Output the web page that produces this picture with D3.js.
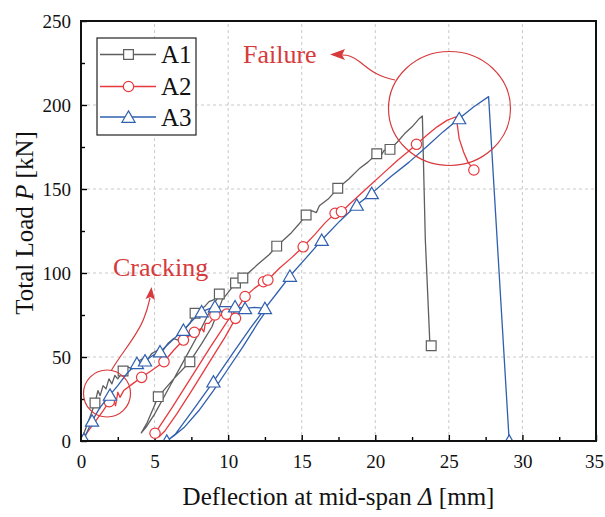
<!DOCTYPE html>
<html>
<head>
<meta charset="utf-8">
<script src="https://cdn.jsdelivr.net/npm/d3@7"></script>
<style>
  body { margin: 0; background: #fff; }
  svg { display: block; font-family: "Liberation Serif", "Times New Roman", serif; }
</style>
</head>
<body>
<div id="chart"></div>
<script>
// ---- data (deflection in mm, load in kN) ----
const a1Deflection = [0, 0.3, 0.6, 0.95, 1.15, 1.3, 1.5, 1.7, 1.9, 2.1, 2.3, 2.5, 2.86, 3.2, 3.5, 3.8, 4.2, 4.5, 4.8, 5.2, 5.5, 5.9, 6.3, 6.6, 7.0, 7.4, 7.75, 8.1, 8.4, 8.7, 9.0, 9.4,
  8.8, 8.0, 7.0, 6.0, 5.0, 4.4, 4.1,
  4.5, 5.25, 6.3, 7.4, 8.2, 8.9, 9.6, 10.5, 11.0, 11.5, 12.0, 12.4, 12.8, 13.3, 13.8, 14.3, 14.8, 15.3, 15.7, 16.0, 16.2, 16.8, 17.45, 18.2, 18.9, 19.5, 20.1, 20.4, 20.6, 21.0, 21.5, 22.0, 22.5, 23.0, 23.2,
  23.4, 23.7, 23.8];
const a1Load = [0, 7, 14, 22.6, 30, 27, 33, 31, 37, 34, 39, 37, 41.7, 44, 43, 47, 49, 48, 52, 54, 53, 58, 61, 60, 66, 70, 76, 78, 80, 83, 84, 87,
  78, 64, 48, 32, 16, 8, 4.8,
  11, 26.4, 37, 47.2, 58, 68, 84, 94, 97, 101, 105, 108, 111, 116, 120, 124, 129, 134.5, 137, 136, 140, 144, 150.4, 156, 162, 166, 171, 170, 173, 173.6, 178, 183, 187, 192, 193.5,
  120, 60, 56.7];
const a1MarkX = [0.95, 2.86, 5.25, 7.4, 7.75, 9.4, 10.5, 11.0, 13.3, 15.3, 17.45, 20.1, 21.0, 23.8];
const a1MarkY = [22.6, 41.7, 26.4, 47.2, 76, 87.5, 94, 97, 116, 134.5, 150.4, 171, 173.6, 56.7];

const a2Deflection = [0, 0.5, 1.0, 1.5, 1.92, 2.2, 2.35, 2.5, 2.65, 2.9, 3.5, 4.12, 4.8, 5.64, 6.3, 6.96, 7.7, 8.2, 8.35, 8.45, 8.7, 9.1, 9.9, 10.5,
  9.8, 8.8, 7.6, 6.5, 5.7, 5.3, 5.03,
  6.2, 7.5, 8.8, 10.0, 10.7, 11.15, 11.8, 12.4, 12.7, 13.5, 14.3, 15.1, 15.9, 16.6, 17.27, 17.7, 18.5, 19.5, 20.5, 21.5, 22.2, 22.8, 23.5, 24.2, 24.9, 25.5,
  25.7, 26.0, 26.3, 26.7];
const a2Load = [0, 6, 12, 18, 23.4, 25, 21, 29, 26, 30, 34, 37.9, 42, 47.2, 54, 60.1, 64.7, 67, 65, 70, 70, 74, 75.5, 73,
  62, 48, 31, 16, 6, 2.5, 4.6,
  20, 38, 56, 72, 80, 86, 91, 94.8, 95.8, 103, 109, 115.6, 123, 130, 135.5, 136.5, 143, 151, 159, 167, 172, 176.6, 182, 187, 191, 193,
  180, 172, 166, 161.3];
const a2MarkX = [1.92, 4.12, 5.64, 6.96, 7.7, 9.1, 9.9, 10.5, 5.03, 11.15, 12.4, 12.7, 15.1, 17.27, 17.7, 22.8, 26.7];
const a2MarkY = [23.4, 37.9, 47.2, 60.1, 64.7, 75, 75.5, 73, 4.6, 86, 94.8, 95.8, 115.6, 135.5, 136.5, 176.6, 161.3];

const a3Deflection = [0, 0.2, 0.75, 1.3, 1.97, 2.5, 3.1, 3.8, 4.35, 4.9, 5.37, 5.5, 6.2, 6.96, 7.6, 8.2, 9.1, 9.8, 10.47, 11.15, 11.8, 12.5, 12.7,
  12.0, 11.0, 10.0, 9.0, 8.0, 7.0, 6.3, 5.83,
  6.4, 7.5, 9.0, 10.3, 11.5, 12.6, 13.4, 14.2, 15.3, 16.36, 17.6, 18.74, 19.76, 21.0, 22.3, 23.6, 24.6, 25.7, 26.7, 27.7,
  29.1];
const a3Load = [0, 1, 12, 20, 27.4, 33, 40, 46.2, 47.8, 51, 53.2, 54, 60, 66, 72, 77, 80, 80, 80, 79, 79.5, 79, 79,
  70, 56, 43, 30, 18, 8, 3, 0,
  4, 17, 35.3, 52, 67, 80, 89, 98.2, 109, 119.6, 131, 140.5, 147.4, 157, 166, 176, 184, 192, 199, 205,
  0];
const a3MarkX = [0.2, 0.75, 1.97, 3.8, 4.35, 5.37, 6.96, 8.2, 9.1, 10.47, 11.15, 12.5, 5.83, 9.0, 14.2, 16.36, 18.74, 19.76, 25.7, 29.1];
const a3MarkY = [1, 12, 27.4, 46.2, 47.8, 53.2, 66, 77, 80, 80, 79, 79, 0, 35.3, 98.2, 119.6, 140.5, 147.4, 192, 0];

const seriesNames = ["A1", "A2", "A3"];
const seriesColors = ["#5e5e5e", "#e8393e", "#2f5fae"];
const seriesSymbols = [d3.symbolSquare, d3.symbolCircle, d3.symbolTriangle];
const xTicks = [0, 5, 10, 15, 20, 25, 30, 35];
const yTicks = [0, 50, 100, 150, 200, 250];

const width = 605, height = 517;
const marginLeft = 81, marginRight = 9, marginTop = 21, marginBottom = 76;
const noteColor = "#d63a3c";
const serif = "Liberation Serif, Times New Roman, serif";

const x = d3.scaleLinear([0, 35], [marginLeft, width - marginRight]);
const y = d3.scaleLinear([0, 250], [height - marginBottom, marginTop]);

const svg = d3.select("#chart").append("svg")
  .attr("width", width)
  .attr("height", height)
  .attr("viewBox", [0, 0, width, height])
  .attr("font-family", serif);

svg.append("defs").append("clipPath").attr("id", "plot")
  .append("rect")
  .attr("x", x(0)).attr("y", y(250))
  .attr("width", x(35) - x(0)).attr("height", y(0) - y(250));

// dashed grid
svg.append("g")
  .attr("stroke", "#c9c9c9")
  .attr("stroke-dasharray", "3,3")
  .call(g => g.selectAll(".gx").data(xTicks.slice(1, -1)).join("line")
    .attr("x1", d => x(d)).attr("x2", d => x(d))
    .attr("y1", y(0)).attr("y2", y(250)))
  .call(g => g.selectAll(".gy").data(yTicks.slice(1, -1)).join("line")
    .attr("class", "gy")
    .attr("x1", x(0)).attr("x2", x(35))
    .attr("y1", d => y(d)).attr("y2", d => y(d)));

// axes, ticks pointing inward
const xAxis = d3.axisBottom(x).tickValues(xTicks).tickSize(-6).tickPadding(14).tickSizeOuter(0);
const yAxis = d3.axisLeft(y).tickValues(yTicks).tickSize(-6).tickPadding(10).tickSizeOuter(0);

svg.append("g")
  .attr("transform", `translate(0,${y(0)})`)
  .call(xAxis)
  .attr("font-family", serif)
  .call(g => g.select(".domain").remove())
  .call(g => g.selectAll(".tick line").attr("stroke", "#000").attr("stroke-width", 1.4))
  .call(g => g.selectAll(".tick text").attr("font-size", 19).attr("fill", "#111")
    .attr("font-family", serif)
    .attr("dx", d => d === 35 ? -2 : 0));

svg.append("g")
  .attr("transform", `translate(0,${y(0)})`)
  .call(d3.axisBottom(x).tickValues(d3.range(2.5, 35, 5)).tickSize(-4).tickFormat(""))
  .call(g => g.select(".domain").remove())
  .call(g => g.selectAll(".tick line").attr("stroke", "#000").attr("stroke-width", 1.4));

svg.append("g")
  .attr("transform", `translate(${x(0)},0)`)
  .call(yAxis)
  .attr("font-family", serif)
  .call(g => g.select(".domain").remove())
  .call(g => g.selectAll(".tick line").attr("stroke", "#000").attr("stroke-width", 1.4))
  .call(g => g.selectAll(".tick text").attr("font-size", 19).attr("fill", "#111")
    .attr("font-family", serif));

svg.append("g")
  .attr("transform", `translate(${x(0)},0)`)
  .call(d3.axisLeft(y).tickValues(d3.range(25, 250, 50)).tickSize(-4).tickFormat(""))
  .call(g => g.select(".domain").remove())
  .call(g => g.selectAll(".tick line").attr("stroke", "#000").attr("stroke-width", 1.4));

// curves
const line = d3.line().x(d => x(d[0])).y(d => y(d[1]));
const curves = [
  d3.zip(a1Deflection, a1Load),
  d3.zip(a2Deflection, a2Load),
  d3.zip(a3Deflection, a3Load)
];
const marks = [
  d3.zip(a1MarkX, a1MarkY),
  d3.zip(a2MarkX, a2MarkY),
  d3.zip(a3MarkX, a3MarkY)
];
const symbolSizes = [95, 85, 75];

const plot = svg.append("g").attr("clip-path", "url(#plot)");
curves.forEach((pts, i) => {
  plot.append("path")
    .datum(pts)
    .attr("fill", "none")
    .attr("stroke", seriesColors[i])
    .attr("stroke-width", 1.3)
    .attr("stroke-linejoin", "round")
    .attr("d", line);
  plot.append("g")
    .selectAll("path")
    .data(marks[i])
    .join("path")
    .attr("transform", d => `translate(${x(d[0])},${y(d[1]) + (i === 2 ? 1.5 : 0)})`)
    .attr("d", d3.symbol(seriesSymbols[i], symbolSizes[i]))
    .attr("fill", "#fff")
    .attr("stroke", seriesColors[i])
    .attr("stroke-width", 1.2);
});

// frame
svg.append("rect")
  .attr("x", x(0)).attr("y", y(250))
  .attr("width", x(35) - x(0)).attr("height", y(0) - y(250))
  .attr("fill", "none")
  .attr("stroke", "#111")
  .attr("stroke-width", 2);

// annotations
svg.append("ellipse")
  .attr("cx", 449.5).attr("cy", 108.5).attr("rx", 61).attr("ry", 57)
  .attr("fill", "none").attr("stroke", noteColor).attr("stroke-width", 1.2);
svg.append("circle")
  .attr("cx", 107).attr("cy", 393.5).attr("r", 23.5)
  .attr("fill", "none").attr("stroke", noteColor).attr("stroke-width", 1.2);

svg.append("path")
  .attr("d", "M395,80 C378,77 370,70 360,62 C352,56 348,55 342,55")
  .attr("fill", "none").attr("stroke", noteColor).attr("stroke-width", 1.2);
svg.append("path")
  .attr("d", "M330,54.5 L345,49 L342,55 L345,60 Z")
  .attr("fill", noteColor);

svg.append("path")
  .attr("d", "M111,371 C122,352 138,335 144,318 C148,308 149,302 150,298")
  .attr("fill", "none").attr("stroke", noteColor).attr("stroke-width", 1.2);
svg.append("path")
  .attr("d", "M151.5,287 L155,300 L150.5,297 L145.5,299 Z")
  .attr("fill", noteColor);

svg.append("text")
  .attr("x", 243).attr("y", 63)
  .attr("font-size", 26).attr("fill", noteColor)
  .text("Failure");
svg.append("text")
  .attr("x", 113).attr("y", 276)
  .attr("font-size", 26).attr("fill", noteColor)
  .text("Cracking");

// legend
const legend = svg.append("g");
legend.append("rect")
  .attr("x", 97).attr("y", 38).attr("width", 99).attr("height", 97)
  .attr("fill", "#fff").attr("stroke", "#222").attr("stroke-width", 1.2);
const legendY = [54.5, 86.5, 117];
seriesNames.forEach((name, i) => {
  legend.append("line")
    .attr("x1", 100).attr("x2", 156)
    .attr("y1", legendY[i]).attr("y2", legendY[i])
    .attr("stroke", seriesColors[i]).attr("stroke-width", 1.3);
  legend.append("path")
    .attr("transform", `translate(128.5,${legendY[i] + (i === 2 ? 1.5 : 0)})`)
    .attr("d", d3.symbol(seriesSymbols[i], symbolSizes[i]))
    .attr("fill", "#fff").attr("stroke", seriesColors[i]).attr("stroke-width", 1.2);
  legend.append("text")
    .attr("x", 161).attr("y", legendY[i] + 8.5)
    .attr("font-size", 25).attr("fill", "#111")
    .text(name);
});

// axis titles
svg.append("text")
  .attr("x", (x(0) + x(35)) / 2).attr("y", 505)
  .attr("text-anchor", "middle")
  .attr("font-size", 25).attr("fill", "#111")
  .call(t => t.append("tspan").text("Deflection at mid-span "))
  .call(t => t.append("tspan").attr("font-style", "italic").text("Δ"))
  .call(t => t.append("tspan").text(" [mm]"));

svg.append("text")
  .attr("transform", `translate(33,${(y(0) + y(250)) / 2 - 8}) rotate(-90)`)
  .attr("text-anchor", "middle")
  .attr("font-size", 25).attr("fill", "#111")
  .call(t => t.append("tspan").text("Total Load "))
  .call(t => t.append("tspan").attr("font-style", "italic").text("P"))
  .call(t => t.append("tspan").text(" [kN]"));
</script>
</body>
</html>
